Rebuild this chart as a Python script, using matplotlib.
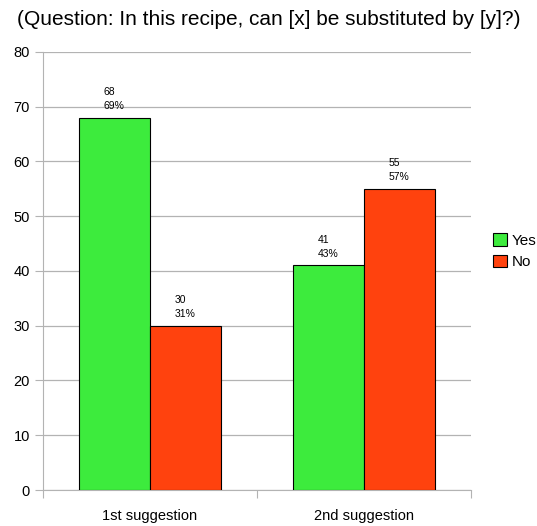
import numpy as np
import matplotlib
matplotlib.use("Agg")
from matplotlib import pyplot as plt

plt.rcParams['font.family'] = ['Liberation Sans', 'DejaVu Sans']

categories = ["1st suggestion", "2nd suggestion"]
yes_counts = [68, 41]
no_counts = [30, 55]
yes_pct = [69, 43]
no_pct = [31, 57]

GREEN = "#3deb3d"
RED = "#ff420e"
GRID = "#b3b3b3"

fig = plt.figure(figsize=(5.37, 5.26), dpi=100)
ax = fig.add_axes([0.0801, 0.0684, 0.797, 0.833])

x = np.arange(len(categories))
w = 1.0 / 3
b1 = ax.bar(x - w / 2, yes_counts, w, color=GREEN, edgecolor="black", linewidth=0.8, label="Yes", zorder=3)
b2 = ax.bar(x + w / 2, no_counts, w, color=RED, edgecolor="black", linewidth=0.8, label="No", zorder=3)

for bars, counts, pcts in [(b1, yes_counts, yes_pct), (b2, no_counts, no_pct)]:
    for r, c, p in zip(bars, counts, pcts):
        ax.annotate("%d\n%d%%" % (c, p), (r.get_x() + w / 2 - 0.05, r.get_height()),
                    xytext=(0, 5), textcoords="offset points", ha="left", va="bottom",
                    fontsize=7.5, linespacing=1.5, zorder=4)

ax.set_xlim(-0.5, 1.5)
ax.set_ylim(0, 80)
ax.set_yticks(range(0, 81, 10))
ax.set_xticks([-0.5, 0.5, 1.5])
ax.set_xticklabels([])
ax.set_xticks(x, minor=True)
ax.set_xticklabels(categories, minor=True, fontsize=10.5)
ax.tick_params(axis="x", which="minor", length=0, pad=14)
ax.tick_params(axis="x", which="major", length=6, color=GRID)
ax.tick_params(axis="y", length=6, color=GRID, labelsize=10.5)
ax.yaxis.grid(True, color=GRID, linewidth=0.9, zorder=0)
for s in ["top", "right"]:
    ax.spines[s].set_visible(False)
for s in ["left", "bottom"]:
    ax.spines[s].set_color(GRID)

fig.text(0.5, 0.962, "(Question: In this recipe, can [x] be substituted by [y]?)", ha="center", va="center", fontsize=15)

leg = fig.legend(loc="upper left", bbox_to_anchor=(0.893, 0.583), frameon=False, fontsize=11,
                 handlelength=0.9, handleheight=0.9, handletextpad=0.3, labelspacing=0.45)

fig.savefig("out.png", dpi=100)
